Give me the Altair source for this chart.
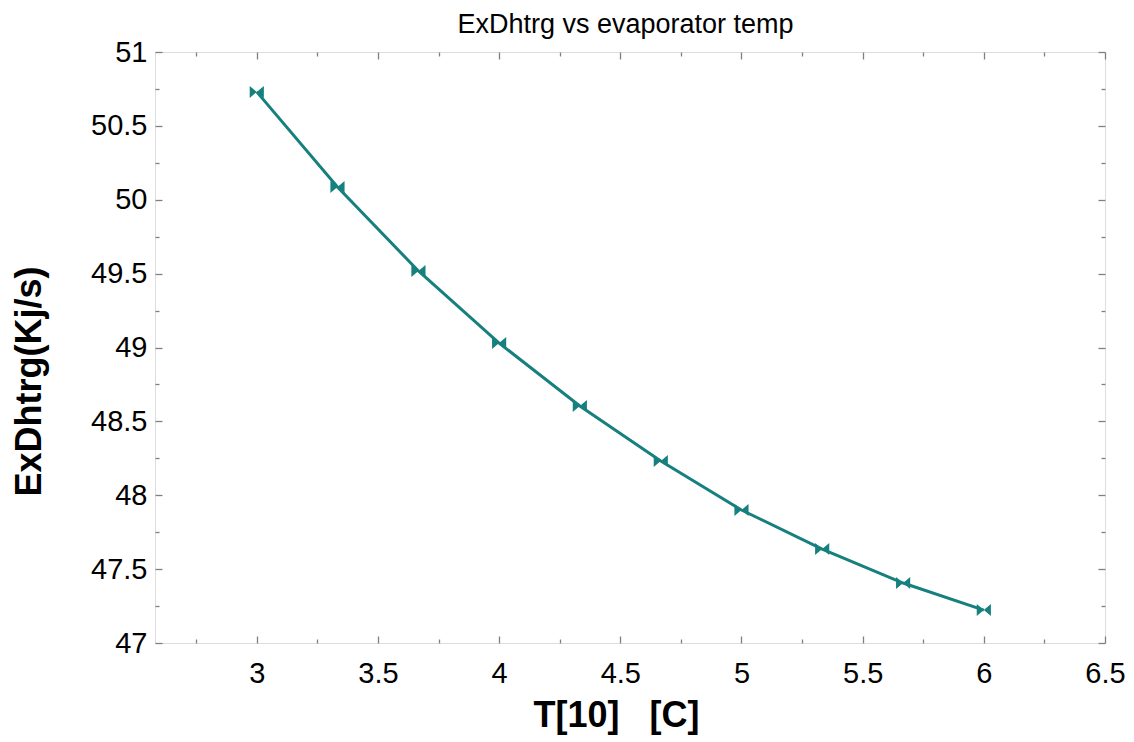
import altair as alt
import pandas as pd

# data
t_evap = [3.0, 3.333, 3.667, 4.0, 4.333, 4.667, 5.0, 5.333, 5.667, 6.0]
exd = [50.73, 50.086, 49.518, 49.03, 48.604, 48.232, 47.90, 47.636, 47.406, 47.223]

x_major = [3, 3.5, 4, 4.5, 5, 5.5, 6, 6.5]
x_minor = [2.75, 3.25, 3.75, 4.25, 4.75, 5.25, 5.75, 6.25]
y_major = [47, 47.5, 48, 48.5, 49, 49.5, 50, 50.5, 51]
y_minor = [47.25, 47.75, 48.25, 48.75, 49.25, 49.75, 50.25, 50.75]

chart_title = "ExDhtrg vs evaporator temp"
x_title = "T[10]\u00a0\u00a0\u00a0[C]"
y_title = "ExDhtrg(Kj/s)"

df = pd.DataFrame({"T": t_evap, "ExD": exd})

TEAL = "#16807e"
GRAY = "#808080"
FONT = "Liberation Sans"
W, H = 950, 591
BOWTIE = "M-1,-0.85L0,0L-1,0.85Z M1,-0.85L0,0L1,0.85Z"

xs = alt.Scale(domain=[2.58, 6.5], nice=False, zero=False)
ys = alt.Scale(domain=[47, 51], nice=False, zero=False)


def tick_axis(orient, values, size, **kw):
    return alt.Axis(orient=orient, values=values, tickSize=size, offset=-size,
                    domain=False, grid=False, labels=False, ticks=True,
                    tickColor=GRAY, tickWidth=1.3, **kw)


x_main = alt.Axis(orient="bottom", values=x_major, tickSize=7, offset=-7,
                  domain=False, grid=False, format="~g",
                  labelFont=FONT, labelFontSize=29, labelColor="black",
                  labelPadding=16, labelFlush=False, labelOverlap=False,
                  tickColor=GRAY, tickWidth=1.3,
                  title=x_title, titleFont=FONT,
                  titleFontSize=36, titleFontWeight="bold", titleColor="black",
                  titleX=461, titleY=90, titleAlign="center",
                  titleBaseline="alphabetic")

y_main = alt.Axis(orient="left", values=y_major, tickSize=7, offset=-7,
                  domain=False, grid=False, format="~g",
                  labelFont=FONT, labelFontSize=29, labelColor="black",
                  labelPadding=8, labelFlush=False, labelOverlap=False,
                  tickColor=GRAY, tickWidth=1.3,
                  title=y_title, titleFont=FONT, titleFontSize=36,
                  titleFontWeight="bold", titleColor="black", titleAngle=270,
                  titleX=-122, titleY=329, titleAlign="center",
                  titleBaseline="alphabetic")

line = alt.Chart(df).mark_line(color=TEAL, strokeWidth=3).encode(
    x=alt.X("T:Q", scale=xs, axis=x_main),
    y=alt.Y("ExD:Q", scale=ys, axis=y_main),
)

points = alt.Chart(df).mark_point(shape=BOWTIE, filled=True, size=200,
                                  color=TEAL, opacity=1).encode(
    x=alt.X("T:Q", scale=xs, axis=tick_axis("bottom", x_minor, 4, title="")),
    y=alt.Y("ExD:Q", scale=ys, axis=tick_axis("left", y_minor, 4, title="")),
)

top_major = alt.Chart(df).mark_point(opacity=0).encode(
    x=alt.X("T:Q", scale=xs, axis=tick_axis(
        "top", x_major, 7, title=chart_title, titleFont=FONT, titleFontSize=27,
        titleFontWeight="normal", titleColor="black", titleX=470, titleY=-27,
        titleAlign="center", titleBaseline="alphabetic")),
    y=alt.Y("ExD:Q", scale=ys, axis=tick_axis("right", y_major, 7, title="")),
)

top_minor = alt.Chart(df).mark_point(opacity=0).encode(
    x=alt.X("T:Q", scale=xs, axis=tick_axis("top", x_minor, 4, title="")),
    y=alt.Y("ExD:Q", scale=ys, axis=tick_axis("right", y_minor, 4, title="")),
)

chart = alt.layer(line, points, top_major, top_minor).resolve_axis(
    x="independent", y="independent"
).properties(
    width=W,
    height=H,
    autosize=alt.AutoSizeParams(type="none"),
    padding={"left": 147, "top": 44, "right": 21, "bottom": 92},
).configure_view(
    stroke=GRAY, strokeWidth=1.5
).configure(background="white")

chart.save("out.html", embed_options={"renderer": "svg", "actions": False})
